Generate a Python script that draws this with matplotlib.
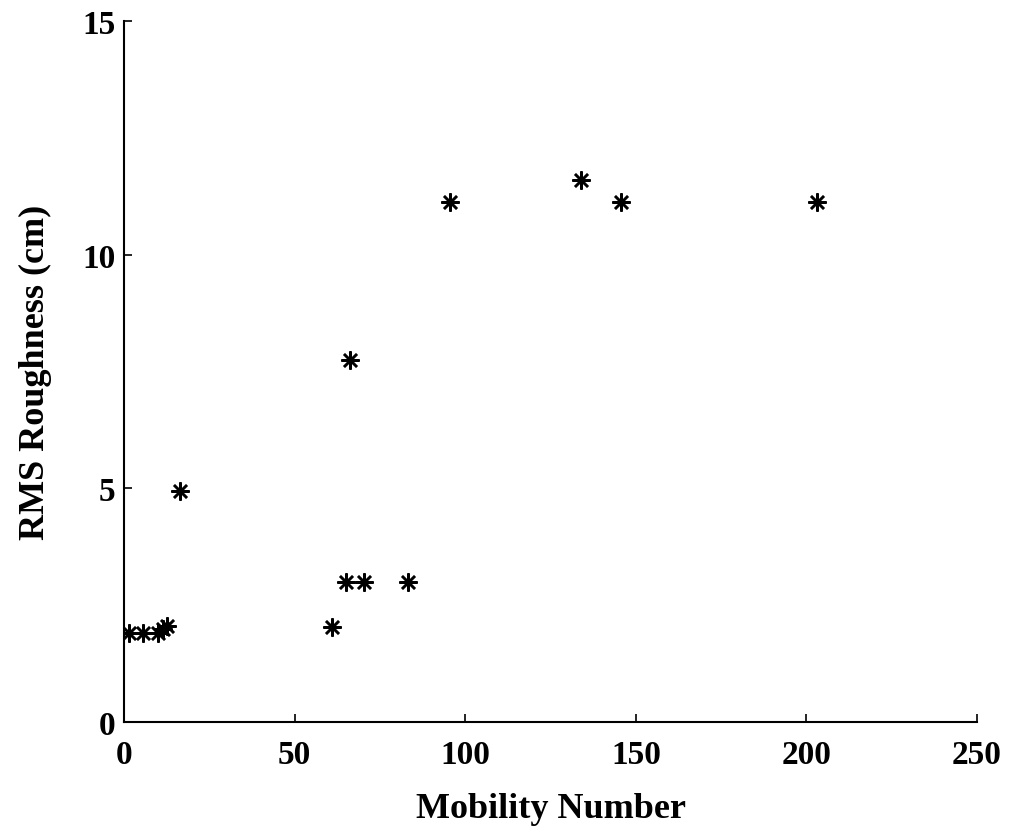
import matplotlib
matplotlib.use("Agg")
import matplotlib.pyplot as plt

mobility = [1.5, 5.6, 10.0, 11.5, 12.5, 16.4, 61.0, 65.0, 70.3, 83.2, 66.2, 95.5, 134.0, 145.7, 203.0]
roughness = [1.90, 1.90, 1.90, 2.00, 2.05, 4.95, 2.03, 3.0, 3.0, 3.0, 7.75, 11.13, 11.6, 11.13, 11.13]

xticks = [0, 50, 100, 150, 200, 250]
yticks = [0, 5, 10, 15]

plt.rcParams['font.family'] = ['Liberation Serif', 'DejaVu Serif']

fig = plt.figure(figsize=(10.11, 8.37), dpi=100)
ax = fig.add_axes([0.1227, 0.1362, 0.8437, 0.8375])
ax.plot(mobility, roughness, linestyle='none', marker=(8, 2, 0), markersize=13,
        markeredgewidth=1.8, color='black')
ax.set_xlim(0, 250)
ax.set_ylim(0, 15)
ax.set_xticks(xticks)
ax.set_yticks(yticks)
ax.spines['top'].set_visible(False)
ax.spines['right'].set_visible(False)
for s in ['left', 'bottom']:
    ax.spines[s].set_linewidth(1.5)
ax.tick_params(direction='in', length=6, width=1.2, labelsize=24)
ax.tick_params(axis='x', pad=12)
ax.tick_params(axis='y', pad=6)
for lab in ax.get_xticklabels() + ax.get_yticklabels():
    lab.set_fontweight('bold')
ax.set_xlabel('Mobility Number', fontsize=26, fontweight='bold', labelpad=16)
ax.set_ylabel('RMS Roughness (cm)', fontsize=26, fontweight='bold', labelpad=22)
fig.savefig('out.png', dpi=100)
